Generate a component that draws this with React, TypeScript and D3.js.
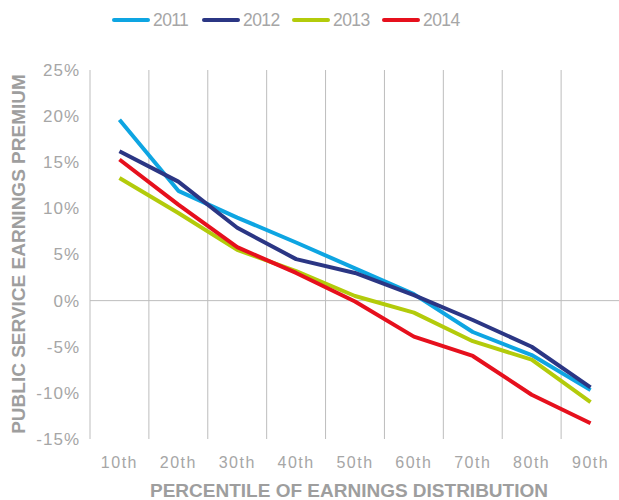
import React from 'react';
import * as d3 from 'd3';

const percentiles = ['10th', '20th', '30th', '40th', '50th', '60th', '70th', '80th', '90th'];
const years = ['2011', '2012', '2013', '2014'];
const values2011 = [19.6, 11.9, 9.0, 6.3, 3.5, 0.7, -3.4, -5.9, -9.7];
const values2012 = [16.2, 12.9, 7.9, 4.5, 3.0, 0.6, -2.1, -5.0, -9.4];
const values2013 = [13.3, 9.5, 5.5, 3.2, 0.5, -1.3, -4.4, -6.4, -11.0];
const values2014 = [15.3, 10.4, 5.8, 3.0, -0.1, -3.9, -6.0, -10.2, -13.3];
const yTicks = [25, 20, 15, 10, 5, 0, -5, -10, -15];
const colors = ['#0ea5e2', '#2b3684', '#b3cb0b', '#e6101d'];

const width = 619;
const height = 500;
const margin = { top: 70, right: 0, bottom: 61, left: 90 };

export default function App() {
  const series = [values2011, values2012, values2013, values2014];

  const x = d3
    .scaleBand()
    .domain(percentiles)
    .range([margin.left, width - margin.right + 1]);
  const y = d3
    .scaleLinear()
    .domain([-15, 25])
    .range([height - margin.bottom, margin.top]);

  const line = d3
    .line<number>()
    .x((_, i) => (x(percentiles[i]) as number) + x.bandwidth() / 2)
    .y(d => y(d));

  const font = '"Liberation Sans", Arial, sans-serif';
  const grey = '#a6a6a6';

  return (
    <svg
      width={width}
      height={height}
      style={{ position: 'absolute', left: 0, top: 0, background: '#fff' }}
      fontFamily={font}
    >
      {/* vertical grid lines at band edges */}
      {percentiles.map(p => (
        <line
          key={p}
          x1={x(p)}
          x2={x(p)}
          y1={y(25)}
          y2={y(-15)}
          stroke="#bdbdbd"
          strokeWidth={1}
        />
      ))}
      {/* zero line */}
      <line x1={margin.left} x2={width} y1={y(0)} y2={y(0)} stroke="#bdbdbd" strokeWidth={1} />

      {/* y tick labels */}
      {yTicks.map(t => (
        <text
          key={t}
          x={80}
          y={y(t)}
          dy="0.35em"
          textAnchor="end"
          fontSize={17}
          letterSpacing={1}
          fill={grey}
        >
          {t}%
        </text>
      ))}

      {/* x tick labels */}
      {percentiles.map(p => (
        <text
          key={p}
          x={(x(p) as number) + x.bandwidth() / 2}
          y={468}
          textAnchor="middle"
          fontSize={16}
          letterSpacing={1.5}
          fill={grey}
        >
          {p}
        </text>
      ))}

      {/* series */}
      {series.map((s, i) => (
        <path
          key={years[i]}
          d={line(s) || ''}
          fill="none"
          stroke={colors[i]}
          strokeWidth={4}
          strokeLinejoin="round"
        />
      ))}

      {/* legend */}
      {years.map((yr, i) => (
        <g key={yr} transform={`translate(${114 + i * 90}, 20)`}>
          <line x1={0} x2={34} y1={0} y2={0} stroke={colors[i]} strokeWidth={4} strokeLinecap="round" />
          <text x={39} y={0} dy="0.36em" fontSize={17.5} letterSpacing={-0.6} fill={grey}>
            {yr}
          </text>
        </g>
      ))}

      {/* axis titles */}
      <text
        x={349}
        y={497}
        textAnchor="middle"
        fontSize={19}
        fontWeight="bold"
        fill="#9e9e9e"
      >
        PERCENTILE OF EARNINGS DISTRIBUTION
      </text>
      <text
        transform={`translate(25, ${254}) rotate(-90)`}
        textAnchor="middle"
        fontSize={19}
        fontWeight="bold"
        fill="#9e9e9e"
      >
        PUBLIC SERVICE EARNINGS PREMIUM
      </text>
    </svg>
  );
}
